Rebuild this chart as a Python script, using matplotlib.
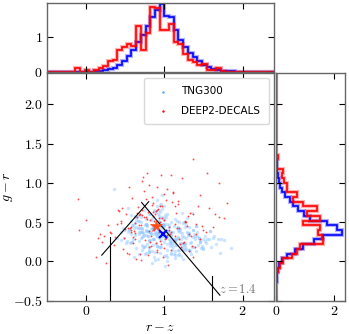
import numpy as np
import matplotlib
matplotlib.use("Agg")
import matplotlib.pyplot as plt

plt.rcParams["font.family"] = "serif"
plt.rcParams["font.serif"] = ["cmr10", "DejaVu Serif"]
plt.rcParams["mathtext.fontset"] = "cm"
plt.rcParams["axes.formatter.use_mathtext"] = True

# -------------------------------------------------
# DATA
# -------------------------------------------------

# TNG300 galaxies (r-z, g-r)
tng_rz = [
    0.95, 1.12, 0.78, 1.03, 0.88, 1.21, 0.67, 0.99, 1.35, 0.84, 1.07, 0.92, 0.73, 1.18, 1.01, 0.59, 1.28, 0.96, 0.81, 1.44,
    1.05, 0.90, 0.62, 1.15, 0.98, 0.76, 1.31, 0.87, 1.09, 0.69, 1.24, 0.94, 1.52, 0.80, 1.00, 0.55, 1.13, 0.91, 1.38, 0.72,
    0.86, 1.19, 0.97, 0.64, 1.27, 1.04, 0.79, 1.46, 0.93, 0.48, 1.10, 0.83, 1.33, 0.99, 0.70, 1.22, 0.89, 1.58, 0.75, 1.06,
    1.16, 0.82, 1.02, 0.57, 1.29, 0.95, 0.71, 1.40, 0.88, 1.08, 0.63, 1.20, 0.97, 0.77, 1.49, 0.85, 1.11, 0.66, 1.25, 0.92,
    0.74, 1.36, 0.90, 1.03, 0.52, 1.17, 0.81, 1.62, 0.96, 0.68, 1.26, 1.00, 0.87, 1.42, 0.61, 1.14, 0.94, 0.78, 1.32, 1.05,
    0.98, 0.58, 1.23, 0.84, 1.55, 0.91, 1.07, 0.72, 1.30, 0.89, 0.44, 1.19, 0.97, 0.80, 1.47, 1.02, 0.65, 1.12, 0.86, 1.71,
    1.09, 0.76, 0.93, 1.37, 0.60, 1.21, 0.99, 0.83, 1.53, 0.70, 1.04, 0.88, 1.28, 0.54, 1.15, 0.95, 0.79, 1.41, 1.01, 0.67,
    0.82, 1.24, 1.06, 0.49, 0.96, 1.34, 0.73, 1.13, 0.90, 1.66, 0.85, 1.00, 0.63, 1.22, 0.94, 1.45, 0.77, 1.08, 0.58, 1.18,
    1.27, 0.92, 0.69, 1.10, 0.87, 1.50, 0.98, 0.75, 1.20, 1.03, 0.40, 1.31, 0.81, 0.97, 1.60, 0.71, 1.14, 0.89, 1.39, 0.93,
    0.64, 1.06, 0.84, 1.25, 0.99, 0.56, 1.17, 0.91, 1.43, 0.78, 1.02, 0.68, 1.29, 0.95, 1.76, 0.86, 1.11, 0.74, 1.35, 1.00,
    0.90, 1.48, 0.77, 1.04, 0.61, 1.19, 0.96, 0.83, 1.32, 0.47, 1.08, 0.88, 1.23, 0.72, 1.57, 0.98, 0.80, 1.16, 0.93, 1.38,
    1.13, 0.70, 0.97, 1.28, 0.85, 0.53, 1.21, 1.01, 0.76, 1.44, 0.92, 1.07, 0.66, 1.26, 0.89, 1.68, 0.82, 1.05, 0.59, 1.15,
    0.94, 1.33, 0.79, 1.09, 0.62, 1.40, 0.87, 1.00, 0.73, 1.20, 0.96, 1.52, 0.84, 1.12, 0.45, 1.03, 0.91, 1.30, 0.68, 1.85,
    1.01, 0.75, 1.18, 0.90, 1.46, 0.57, 1.06, 0.86, 1.24, 0.99, 0.71, 1.36, 0.95, 0.81, 1.11, 0.64, 1.27, 0.88, 1.63, 0.97,
    0.83, 1.14, 0.67, 1.02, 1.39, 0.92, 0.78, 1.22, 0.51, 1.08, 0.98, 1.49, 0.74, 1.17, 0.89, 1.04, 0.60, 1.32, 0.94, 1.73,
    1.07, 0.88, 1.25, 0.69, 0.96, 1.42, 0.80, 1.10, 0.55, 1.19, 0.93, 0.76, 1.34, 1.00, 0.85, 1.58, 0.72, 1.13, 0.91, 0.36,
]
tng_gr = [
    0.31, 0.45, 0.22, 0.38, 0.12, 0.29, 0.51, 0.35, 0.18, 0.42, 0.27, 0.60, 0.33, 0.08, 0.40, 0.25, 0.47, 0.36, 0.15, 0.30,
    0.39, 0.20, 0.56, 0.28, 0.43, 0.11, 0.34, 0.65, 0.24, 0.37, 0.03, 0.46, 0.32, 0.19, 0.53, 0.41, 0.26, 0.70, 0.35, 0.14,
    0.28, 0.50, 0.37, 0.17, 0.44, 0.06, 0.33, 0.25, 0.58, 0.40, 0.21, 0.36, 0.13, 0.48, 0.30, 0.62, 0.23, 0.39, 0.10, 0.46,
    0.42, 0.27, 0.08, 0.35, 0.55, 0.19, 0.31, 0.45, 0.02, 0.38, 0.49, 0.24, 0.67, 0.34, 0.16, 0.41, 0.29, 0.52, 0.21, 0.36,
    0.18, 0.40, 0.33, 0.61, 0.26, 0.44, 0.12, 0.30, 0.47, 0.37, 0.22, 0.55, 0.05, 0.32, 0.43, 0.28, 0.72, 0.39, 0.14, 0.34,
    0.47, 0.25, 0.36, -0.02, 0.29, 0.52, 0.20, 0.41, 0.34, 0.63, 0.27, 0.09, 0.45, 0.38, 0.17, 0.31, 0.57, 0.23, 0.42, 0.11,
    0.33, 0.54, 0.19, 0.40, 0.28, 0.07, 0.46, 0.35, 0.24, 0.50, 0.15, 0.37, 0.30, 0.68, 0.21, 0.43, 0.32, 0.13, 0.59, 0.26,
    0.38, 0.16, 0.44, 0.30, 0.73, 0.25, 0.36, 0.04, 0.49, 0.22, 0.41, 0.33, 0.58, 0.18, 0.47, 0.27, 0.39, 0.10, 0.52, 0.31,
    0.23, 0.41, 0.60, 0.14, 0.35, 0.28, 0.48, 0.20, 0.38, 0.01, 0.30, 0.44, 0.26, 0.57, 0.19, 0.37, 0.08, 0.42, 0.32, 0.66,
    0.44, 0.29, 0.13, 0.50, 0.35, 0.24, 0.39, 0.78, 0.21, 0.46, 0.31, 0.10, 0.37, 0.55, 0.27, 0.43, 0.18, 0.34, 0.62, 0.25,
    0.36, 0.20, 0.48, 0.32, 0.06, 0.40, 0.27, 0.53, 0.15, 0.42, 0.34, 0.64, 0.23, 0.38, 0.29, 0.45, 0.12, 0.51, 0.30, 0.19,
    0.27, 0.57, 0.33, 0.16, 0.46, 0.37, 0.22, -0.06, 0.40, 0.30, 0.52, 0.25, 0.43, 0.14, 0.35, 0.28, 0.61, 0.39, 0.47, 0.21,
    0.50, 0.24, 0.39, 0.11, 0.34, 0.45, 0.29, 0.70, 0.18, 0.41, 0.32, 0.26, 0.55, 0.09, 0.38, 0.48, 0.20, 0.36, 0.43, 0.17,
    0.30, 0.46, 0.14, 0.38, 0.25, 0.59, 0.35, 0.21, 0.49, 0.07, 0.42, 0.31, 0.63, 0.27, 0.37, 0.53, 0.19, 0.44, 0.33, 0.85,
    0.41, 0.13, 0.35, 0.56, 0.28, 0.03, 0.45, 0.32, 0.24, 0.50, 0.38, 0.17, 0.66, 0.30, 0.42, 0.22, 0.47, 0.36, 0.11, 0.29,
    0.24, 0.52, 0.31, 0.43, 0.18, 0.37, 0.60, 0.26, 0.40, 0.15, 0.34, 0.48, 0.10, 0.45, 0.28, 0.39, 0.21, 0.54, 0.33, 0.92,
]

# DEEP2-DECALS galaxies (r-z, g-r)
deep_rz = [
    0.88, 1.15, 0.62, 0.97, 1.32, 0.45, 0.80, 1.06, 0.71, 1.24, 0.93, 0.55, 1.41, 0.84, 1.02, 0.67, 1.19, 0.36, 0.90, 1.53,
    0.76, 1.09, 0.58, 0.99, 1.28, 0.83, 0.41, 1.12, 0.70, 0.95, 1.37, 0.63, 0.86, 1.21, 0.50, 1.00, 0.74, 1.46, 0.91, 0.28,
    1.04, 0.66, 0.89, 1.30, 0.53, 0.79, 1.17, 0.94, 0.60, 1.62, 0.85, 0.47, 1.08, 0.72, 1.25, 0.97, 0.39, 1.14, 0.81, 1.36,
    0.69, 1.01, 0.87, 0.32, 1.22, 0.77, 1.48, 0.92, 0.57, 1.11, 0.83, 0.65, 1.34, 0.98, 0.44, 1.18, 0.75, 1.70, 0.89, 0.52,
    1.27, 0.61, 0.96, 0.82, 1.43, 0.70, 1.05, 0.23, 0.88, 1.16, 0.59, 1.31, 0.93, 0.78, 1.57, 0.48, 1.03, 0.68, 1.20, 0.86,
    0.95, 0.42, 1.13, 0.73, 1.39, 0.84, 0.56, 1.07, 1.76, 0.64, 0.91, 1.26, 0.37, 0.99, 0.80, 1.50, 0.71, 1.10, 0.60, 1.33,
    -0.10, -0.09, 0.00, 0.15, 0.12, 1.37, 1.70, 0.20, 0.25, 1.55, 1.65, 0.30, 1.45, 0.78, 1.08, 0.18, 1.80, 0.55, 1.22, 0.65,
    0.87, 1.14, 0.51, 0.96, 1.29, 0.74, 1.02, 0.62, 1.41, 0.90, 0.46, 1.19, 0.82, 1.06, 0.69, 0.94, 1.35, 0.58, 1.11, 0.79,
]
deep_gr = [
    0.45, 0.62, 0.28, 0.71, 0.35, 0.52, 0.18, 0.40, 0.66, 0.24, 0.55, 0.10, 0.48, 0.82, 0.30, 0.59, 0.43, 0.21, 0.95, 0.38,
    0.57, 0.14, 0.44, 0.86, 0.50, 0.33, 0.65, 0.26, 0.02, 0.47, 0.60, 0.36, 0.74, 0.19, 0.41, 0.53, 0.90, 0.28, 0.12, 0.46,
    0.34, 0.69, 0.23, 0.58, 0.42, 0.08, 0.77, 0.50, 0.31, 0.44, 0.63, 0.16, 0.37, 1.02, 0.25, 0.55, 0.48, 0.70, 0.39, 0.05,
    0.61, 0.29, 0.52, 0.36, 0.15, 0.79, 0.45, 0.67, 0.40, 0.88, 0.20, 0.57, 0.32, 0.06, 0.49, 0.73, 0.27, 0.56, 0.64, 0.11,
    0.51, 0.39, 1.10, 0.25, 0.70, 0.47, -0.04, 0.33, 0.60, 0.42, 0.81, 0.13, 0.37, 0.54, 0.68, 0.30, 0.92, 0.46, 0.22, 0.58,
    0.26, 0.64, 0.48, 1.08, 0.19, 0.72, 0.43, 0.35, 0.55, 0.03, 0.66, 0.50, 0.31, 0.17, 0.97, 0.40, 0.59, 0.76, 0.24, 0.62,
    0.80, 0.40, 0.53, 0.30, 0.05, 1.31, 1.00, 0.25, -0.02, 1.12, 0.60, 0.38, 0.85, 1.13, 1.10, 0.35, 0.75, 0.95, 1.06, 0.62,
    0.40, 0.32, 0.61, 0.22, 0.45, 0.57, 0.78, 0.49, 0.35, 0.14, 0.68, 0.28, 0.53, 0.44, 0.09, 0.71, 0.20, 0.38, 0.87, 0.63,
]

# sample medians
tng_center = (0.98, 0.345)
deep_center = (0.89, 0.455)

# normalised histograms, bins of 0.06 starting at -0.5
bin_edges = np.round(np.arange(-0.5, 2.45, 0.06), 2)
tng_rz_hist = [
    0.0, 0.0, 0.0, 0.0, 0.01, 0.01, 0.01, 0.01, 0.01, 0.01, 0.02, 0.03, 0.05, 0.08, 0.12, 0.20,
    0.30, 0.45, 0.62, 0.85, 1.05, 1.30, 1.55, 1.75, 1.92, 1.60, 1.55, 1.20, 0.90, 0.70, 0.55, 0.42,
    0.30, 0.20, 0.14, 0.09, 0.06, 0.04, 0.03, 0.02, 0.01, 0.01, 0.01, 0.0, 0.0, 0.0, 0.0, 0.0, 0.0,
]
deep_rz_hist = [
    0.0, 0.0, 0.0, 0.0, 0.0, 0.0, 0.10, 0.0, 0.07, 0.0, 0.07, 0.10, 0.18, 0.30, 0.35, 0.62,
    0.72, 0.80, 0.75, 1.30, 0.62, 1.10, 1.86, 1.82, 1.20, 1.20, 1.35, 0.86, 0.80, 0.52, 0.33, 0.29,
    0.19, 0.24, 0.07, 0.07, 0.11, 0.03, 0.0, 0.0, 0.0, 0.0, 0.0, 0.0, 0.0, 0.0, 0.0, 0.0, 0.0,
]
tng_gr_hist = [
    0.0, 0.01, 0.01, 0.01, 0.02, 0.04, 0.06, 0.10, 0.22, 0.37, 0.66, 0.94, 1.29, 1.60, 2.26, 2.10,
    1.75, 1.17, 0.95, 0.77, 0.60, 0.48, 0.30, 0.20, 0.14, 0.10, 0.06, 0.04, 0.03, 0.02, 0.01, 0.01,
    0.01, 0.0, 0.0, 0.0, 0.0, 0.0, 0.0, 0.0, 0.0, 0.0, 0.0, 0.0, 0.0, 0.0, 0.0, 0.0, 0.0,
]
deep_gr_hist = [
    0.0, 0.0, 0.0, 0.0, 0.0, 0.0, 0.05, 0.14, 0.25, 0.54, 0.71, 0.83, 1.63, 1.57, 1.46, 1.52,
    0.94, 1.50, 1.06, 1.40, 0.94, 0.60, 0.71, 0.37, 0.37, 0.28, 0.20, 0.23, 0.0, 0.0, 0.08, 0.0,
    0.0, 0.0, 0.0, 0.0, 0.0, 0.0, 0.0, 0.0, 0.0, 0.0, 0.0, 0.0, 0.0, 0.0, 0.0, 0.0, 0.0,
]

# colour-cut lines drawn on the colour-colour plane
cut_lines = [
    ([0.20, 0.80], [0.08, 0.76]),
    ([0.71, 1.71], [0.75, -0.43]),
    ([0.30, 0.30], [-0.5, 0.31]),
    ([1.61, 1.61], [-0.5, -0.19]),
]

x_ticks = [0, 1, 2]
y_ticks = [-0.5, 0.0, 0.5, 1.0, 1.5, 2.0]

# -------------------------------------------------
# PLOTTING SECTION
# -------------------------------------------------

fig = plt.figure(figsize=(3.49, 3.34), dpi=100)
ax = fig.add_axes([0.1347, 0.0997, 0.650, 0.682])
ax_top = fig.add_axes([0.1347, 0.7844, 0.650, 0.2066])
ax_right = fig.add_axes([0.791, 0.0997, 0.198, 0.682])

spine_color = "0.4"
for a in (ax, ax_top, ax_right):
    for s in a.spines.values():
        s.set_color(spine_color)
        s.set_linewidth(1.0)
    a.tick_params(direction="in", top=True, right=True, length=4, width=0.8,
                  labelsize=10, pad=3)

# ---- main scatter ----
ax.scatter(tng_rz, tng_gr, s=6.0, color="#8cc4ff", alpha=0.45, lw=0,
           marker="o", label="TNG300")
ax.scatter(deep_rz, deep_gr, s=1.8, color="red", alpha=0.7, lw=0,
           marker="o", label="DEEP2-DECALS")
for xs, ys in cut_lines:
    ax.plot(xs, ys, color="black", lw=0.8)
ax.plot(deep_center[0], deep_center[1], marker="*", color="#ff4d1a",
        ms=9, mec="#ff4d1a", mew=0.5, ls="none", zorder=6)
ax.plot(tng_center[0], tng_center[1], marker="x", color="blue",
        ms=5.5, mew=1.5, ls="none", zorder=6)
ax.text(1.70, -0.40, r"$z = 1.4$", color="0.45", fontsize=9)

ax.set_xlim(-0.5, 2.4)
ax.set_ylim(-0.5, 2.4)
ax.set_xticks(x_ticks)
ax.set_yticks(y_ticks)
ax.set_xlabel(r"$r-z$", fontsize=10)
ax.set_ylabel(r"$g-r$", fontsize=10)
ax.xaxis.set_label_coords(0.5, -0.095)
ax.yaxis.set_label_coords(-0.14, 0.5)

leg = ax.legend(loc="upper right", prop={"family": "DejaVu Sans", "size": 7.5},
                markerscale=1.0, handletextpad=0.8, borderpad=0.8,
                labelspacing=0.9, framealpha=1.0)
leg.get_frame().set_edgecolor("0.85")
for h in leg.legend_handles:
    h.set_alpha(1.0)
    h.set_sizes([3.0])
leg.legend_handles[0].set_color("#4da3ff")

# ---- top histogram (r-z) ----
for vals, col in ((tng_rz_hist, "blue"), (deep_rz_hist, "red")):
    ax_top.stairs(vals, bin_edges, color=col, lw=3.0, alpha=0.3)
    ax_top.stairs(vals, bin_edges, color=col, lw=1.2)
ax_top.set_xlim(-0.5, 2.4)
ax_top.set_ylim(0, 1.96)
ax_top.set_xticks(x_ticks)
ax_top.set_yticks([0, 1])
ax_top.tick_params(labelbottom=False)

# ---- right histogram (g-r) ----
for vals, col in ((tng_gr_hist, "blue"), (deep_gr_hist, "red")):
    ax_right.stairs(vals, bin_edges, orientation="horizontal", color=col, lw=3.0, alpha=0.3)
    ax_right.stairs(vals, bin_edges, orientation="horizontal", color=col, lw=1.2)
ax_right.set_ylim(-0.5, 2.4)
ax_right.set_xlim(0, 2.38)
ax_right.set_yticks(y_ticks)
ax_right.set_xticks([0, 2])
ax_right.tick_params(labelleft=False)

fig.savefig("out.png", dpi=100)
